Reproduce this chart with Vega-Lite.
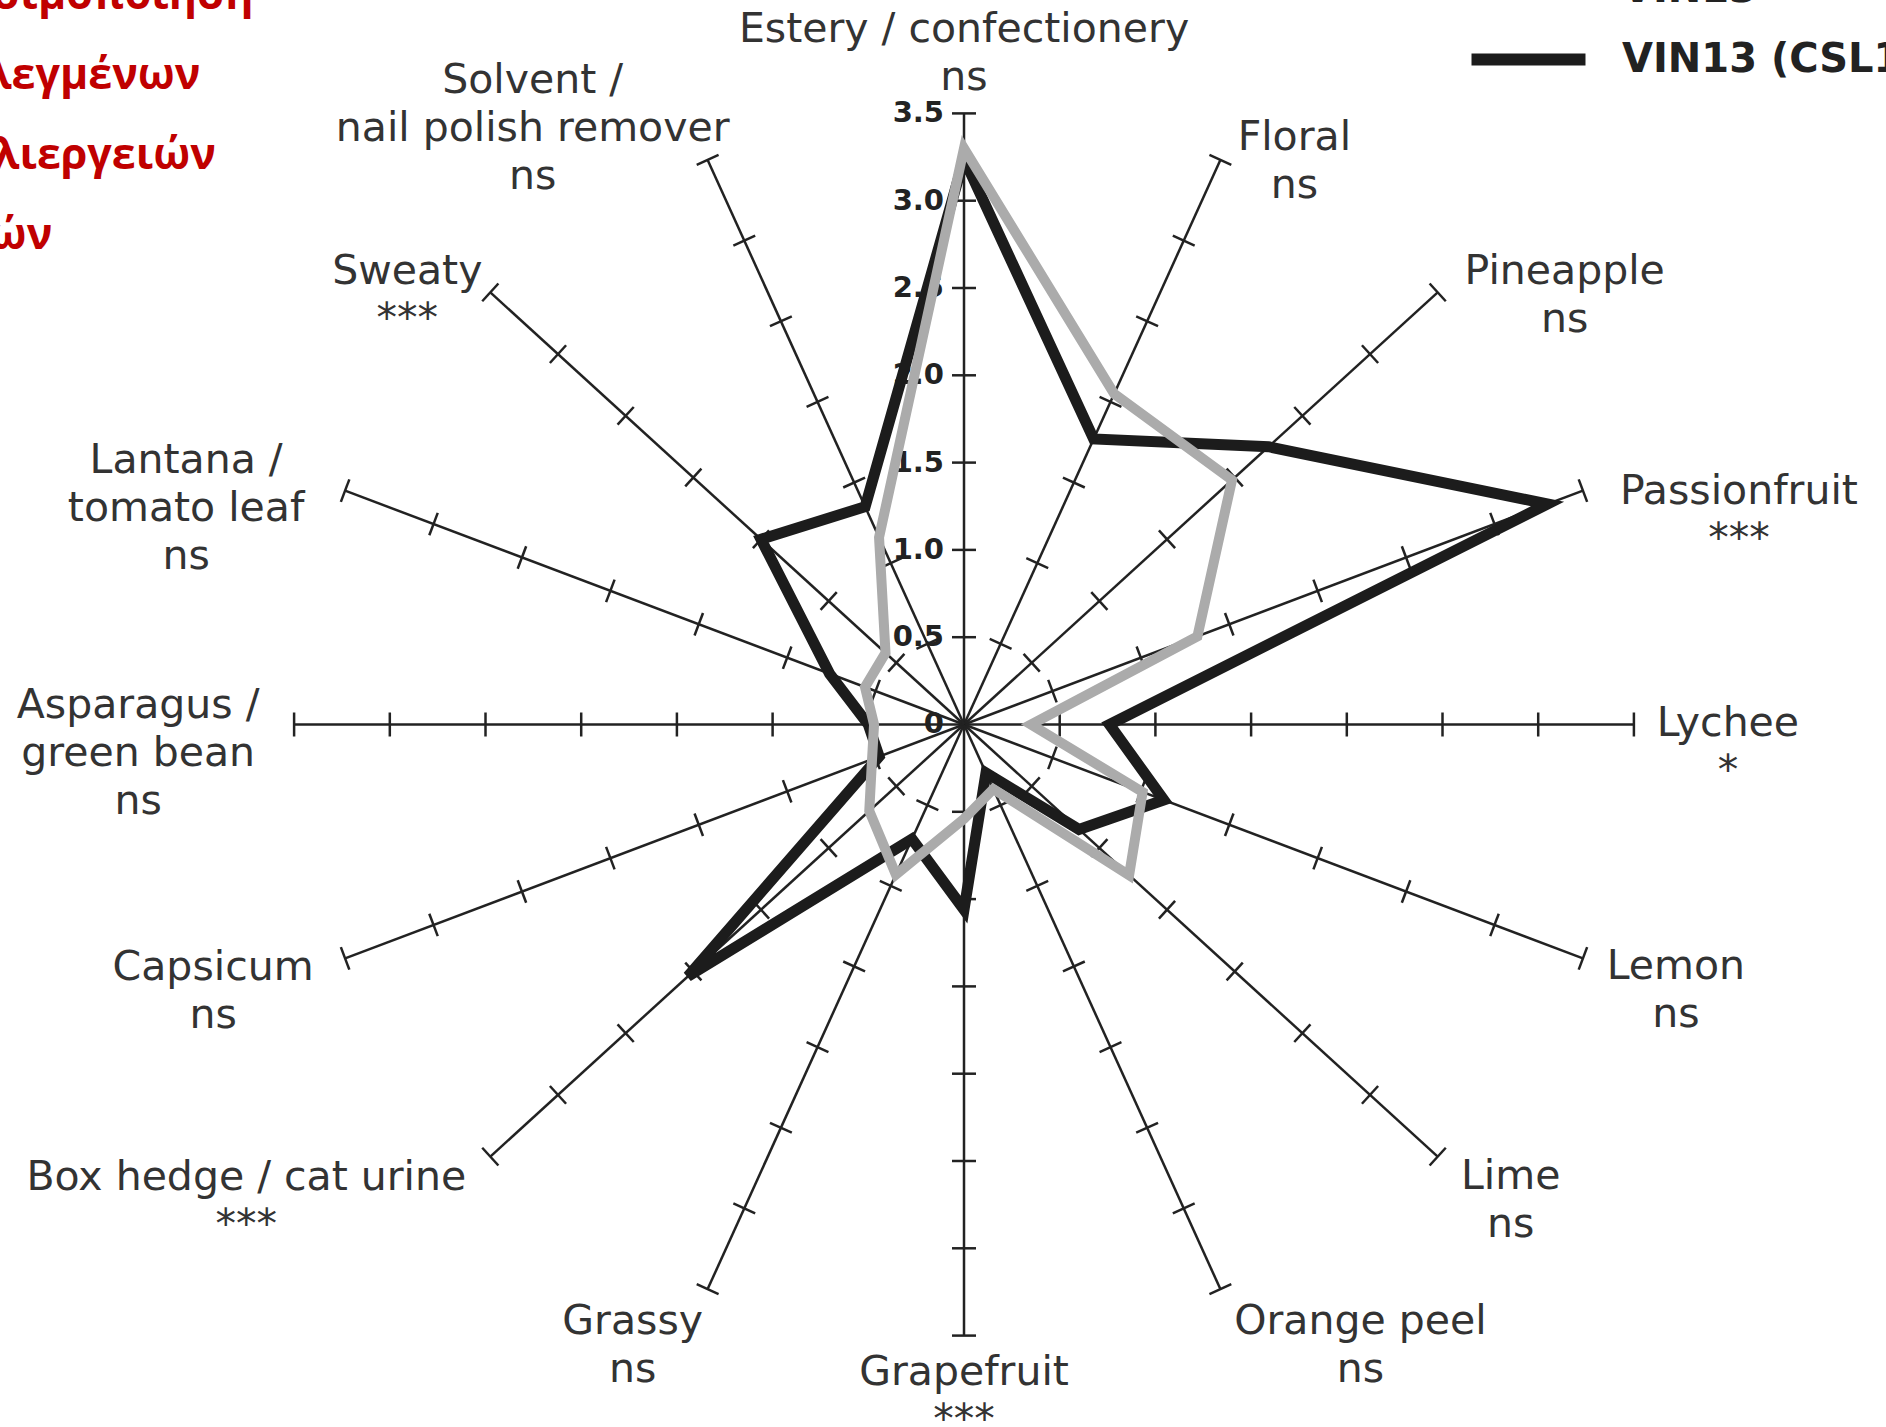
{
  "$schema": "https://vega.github.io/schema/vega-lite/v6.json",
  "width": 1886,
  "height": 1427,
  "autosize": {"type": "none"},
  "padding": 0,
  "background": "white",
  "config": {"view": {"stroke": null}},
  "datasets": {
    "attrs": [
      {"i": 0, "attribute": "Estery / confectionery", "label": ["Estery / confectionery", "ns"]},
      {"i": 1, "attribute": "Floral", "label": ["Floral", "ns"]},
      {"i": 2, "attribute": "Pineapple", "label": ["Pineapple", "ns"]},
      {"i": 3, "attribute": "Passionfruit", "label": ["Passionfruit", "***"]},
      {"i": 4, "attribute": "Lychee", "label": ["Lychee", "*"]},
      {"i": 5, "attribute": "Lemon", "label": ["Lemon", "ns"]},
      {"i": 6, "attribute": "Lime", "label": ["Lime", "ns"]},
      {"i": 7, "attribute": "Orange peel", "label": ["Orange peel", "ns"]},
      {"i": 8, "attribute": "Grapefruit", "label": ["Grapefruit", "***"]},
      {"i": 9, "attribute": "Grassy", "label": ["Grassy", "ns"]},
      {"i": 10, "attribute": "Box hedge / cat urine", "label": ["Box hedge / cat urine", "***"]},
      {"i": 11, "attribute": "Capsicum", "label": ["Capsicum", "ns"]},
      {"i": 12, "attribute": "Asparagus / green bean", "label": ["Asparagus /", "green bean", "ns"]},
      {"i": 13, "attribute": "Lantana / tomato leaf", "label": ["Lantana /", "tomato leaf", "ns"]},
      {"i": 14, "attribute": "Sweaty", "label": ["Sweaty", "***"]},
      {"i": 15, "attribute": "Solvent / nail polish remover", "label": ["Solvent /", "nail polish remover", "ns"]}
    ],
    "levels": [
      {"t": 0, "lab": "0", "spokes": []},
      {"t": 0.5, "lab": "0.5", "spokes": [0,1,2,3,4,5,6,7,8,9,10,11,12,13,14,15]},
      {"t": 1, "lab": "1.0", "spokes": [0,1,2,3,4,5,6,7,8,9,10,11,12,13,14,15]},
      {"t": 1.5, "lab": "1.5", "spokes": [0,1,2,3,4,5,6,7,8,9,10,11,12,13,14,15]},
      {"t": 2, "lab": "2.0", "spokes": [0,1,2,3,4,5,6,7,8,9,10,11,12,13,14,15]},
      {"t": 2.5, "lab": "2.5", "spokes": [0,1,2,3,4,5,6,7,8,9,10,11,12,13,14,15]},
      {"t": 3, "lab": "3.0", "spokes": [0,1,2,3,4,5,6,7,8,9,10,11,12,13,14,15]},
      {"t": 3.5, "lab": "3.5", "spokes": [0,1,2,3,4,5,6,7,8,9,10,11,12,13,14,15]}
    ],
    "scores": [
      {"attribute": "Estery / confectionery", "i": 0, "strain": "VIN13", "score": 3.3},
      {"attribute": "Floral", "i": 1, "strain": "VIN13", "score": 2.05},
      {"attribute": "Pineapple", "i": 2, "strain": "VIN13", "score": 1.98},
      {"attribute": "Passionfruit", "i": 3, "strain": "VIN13", "score": 1.32},
      {"attribute": "Lychee", "i": 4, "strain": "VIN13", "score": 0.35},
      {"attribute": "Lemon", "i": 5, "strain": "VIN13", "score": 1.01},
      {"attribute": "Lime", "i": 6, "strain": "VIN13", "score": 1.22},
      {"attribute": "Orange peel", "i": 7, "strain": "VIN13", "score": 0.4},
      {"attribute": "Grapefruit", "i": 8, "strain": "VIN13", "score": 0.54},
      {"attribute": "Grassy", "i": 9, "strain": "VIN13", "score": 0.93},
      {"attribute": "Box hedge / cat urine", "i": 10, "strain": "VIN13", "score": 0.7},
      {"attribute": "Capsicum", "i": 11, "strain": "VIN13", "score": 0.52},
      {"attribute": "Asparagus / green bean", "i": 12, "strain": "VIN13", "score": 0.47},
      {"attribute": "Lantana / tomato leaf", "i": 13, "strain": "VIN13", "score": 0.56},
      {"attribute": "Sweaty", "i": 14, "strain": "VIN13", "score": 0.58},
      {"attribute": "Solvent / nail polish remover", "i": 15, "strain": "VIN13", "score": 1.16},
      {"attribute": "Estery / confectionery", "i": 0, "strain": "VIN13 (CSL1)", "score": 3.24},
      {"attribute": "Floral", "i": 1, "strain": "VIN13 (CSL1)", "score": 1.77},
      {"attribute": "Pineapple", "i": 2, "strain": "VIN13 (CSL1)", "score": 2.25},
      {"attribute": "Passionfruit", "i": 3, "strain": "VIN13 (CSL1)", "score": 3.3},
      {"attribute": "Lychee", "i": 4, "strain": "VIN13 (CSL1)", "score": 0.76},
      {"attribute": "Lemon", "i": 5, "strain": "VIN13 (CSL1)", "score": 1.13},
      {"attribute": "Lime", "i": 6, "strain": "VIN13 (CSL1)", "score": 0.85},
      {"attribute": "Orange peel", "i": 7, "strain": "VIN13 (CSL1)", "score": 0.3},
      {"attribute": "Grapefruit", "i": 8, "strain": "VIN13 (CSL1)", "score": 1.06},
      {"attribute": "Grassy", "i": 9, "strain": "VIN13 (CSL1)", "score": 0.71},
      {"attribute": "Box hedge / cat urine", "i": 10, "strain": "VIN13 (CSL1)", "score": 2.04},
      {"attribute": "Capsicum", "i": 11, "strain": "VIN13 (CSL1)", "score": 0.48},
      {"attribute": "Asparagus / green bean", "i": 12, "strain": "VIN13 (CSL1)", "score": 0.5},
      {"attribute": "Lantana / tomato leaf", "i": 13, "strain": "VIN13 (CSL1)", "score": 0.76},
      {"attribute": "Sweaty", "i": 14, "strain": "VIN13 (CSL1)", "score": 1.5},
      {"attribute": "Solvent / nail polish remover", "i": 15, "strain": "VIN13 (CSL1)", "score": 1.35}
    ],
    "slide": [
      {"lines": ["χρησιμοποίηση", "επιλεγμένων", "καλλιεργειών", "ζυμών"]}
    ]
  },
  "encoding": {
    "x": {"field": "px", "type": "quantitative", "scale": {"domain": [-5.0366, 4.8171], "nice": false, "zero": false}, "axis": null},
    "y": {"field": "py", "type": "quantitative", "scale": {"domain": [-4.0235, 4.1495], "nice": false, "zero": false}, "axis": null}
  },
  "layer": [
    {
      "data": {"name": "levels"},
      "transform": [{"calculate": "0", "as": "px"}, {"calculate": "datum.t", "as": "py"}],
      "mark": {"type": "text", "align": "right", "baseline": "middle", "dx": -20, "font": "DejaVu Sans", "fontWeight": "bold", "fontSize": 29, "color": "#222222"},
      "encoding": {"text": {"field": "lab", "type": "nominal"}}
    },
    {
      "data": {"name": "attrs"},
      "transform": [
        {"calculate": "datum.i * PI / 8", "as": "theta"},
        {"calculate": "3.5 * sin(datum.theta)", "as": "px"},
        {"calculate": "3.5 * cos(datum.theta)", "as": "py"}
      ],
      "layer": [
        {
          "mark": {"type": "rule", "strokeWidth": 2.5, "color": "#222222"},
          "encoding": {
            "x": {"datum": 0, "type": "quantitative", "scale": {"domain": [-5.0366, 4.8171], "nice": false, "zero": false}, "axis": null},
            "y": {"datum": 0, "type": "quantitative", "scale": {"domain": [-4.0235, 4.1495], "nice": false, "zero": false}, "axis": null},
            "x2": {"field": "px"},
            "y2": {"field": "py"}
          }
        },
        {"transform": [{"filter": "datum.i == 0"}], "mark": {"type": "text", "align": "center", "baseline": "alphabetic", "dx": 0, "dy": -71, "font": "DejaVu Sans", "fontSize": 41, "lineHeight": 48, "color": "#333333"}, "encoding": {"text": {"field": "label", "type": "nominal"}}},
        {"transform": [{"filter": "datum.i == 1"}], "mark": {"type": "text", "align": "center", "baseline": "alphabetic", "dx": 74, "dy": -10, "font": "DejaVu Sans", "fontSize": 41, "lineHeight": 48, "color": "#333333"}, "encoding": {"text": {"field": "label", "type": "nominal"}}},
        {"transform": [{"filter": "datum.i == 2"}], "mark": {"type": "text", "align": "center", "baseline": "alphabetic", "dx": 127, "dy": -8, "font": "DejaVu Sans", "fontSize": 41, "lineHeight": 48, "color": "#333333"}, "encoding": {"text": {"field": "label", "type": "nominal"}}},
        {"transform": [{"filter": "datum.i == 3"}], "mark": {"type": "text", "align": "center", "baseline": "alphabetic", "dx": 156, "dy": 13, "font": "DejaVu Sans", "fontSize": 41, "lineHeight": 48, "color": "#333333"}, "encoding": {"text": {"field": "label", "type": "nominal"}}},
        {"transform": [{"filter": "datum.i == 4"}], "mark": {"type": "text", "align": "center", "baseline": "alphabetic", "dx": 94, "dy": 12, "font": "DejaVu Sans", "fontSize": 41, "lineHeight": 48, "color": "#333333"}, "encoding": {"text": {"field": "label", "type": "nominal"}}},
        {"transform": [{"filter": "datum.i == 5"}], "mark": {"type": "text", "align": "center", "baseline": "alphabetic", "dx": 93, "dy": 21, "font": "DejaVu Sans", "fontSize": 41, "lineHeight": 48, "color": "#333333"}, "encoding": {"text": {"field": "label", "type": "nominal"}}},
        {"transform": [{"filter": "datum.i == 6"}], "mark": {"type": "text", "align": "center", "baseline": "alphabetic", "dx": 73, "dy": 32, "font": "DejaVu Sans", "fontSize": 41, "lineHeight": 48, "color": "#333333"}, "encoding": {"text": {"field": "label", "type": "nominal"}}},
        {"transform": [{"filter": "datum.i == 7"}], "mark": {"type": "text", "align": "center", "baseline": "alphabetic", "dx": 140, "dy": 45, "font": "DejaVu Sans", "fontSize": 41, "lineHeight": 48, "color": "#333333"}, "encoding": {"text": {"field": "label", "type": "nominal"}}},
        {"transform": [{"filter": "datum.i == 8"}], "mark": {"type": "text", "align": "center", "baseline": "alphabetic", "dx": 0, "dy": 49, "font": "DejaVu Sans", "fontSize": 41, "lineHeight": 48, "color": "#333333"}, "encoding": {"text": {"field": "label", "type": "nominal"}}},
        {"transform": [{"filter": "datum.i == 9"}], "mark": {"type": "text", "align": "center", "baseline": "alphabetic", "dx": -75, "dy": 45, "font": "DejaVu Sans", "fontSize": 41, "lineHeight": 48, "color": "#333333"}, "encoding": {"text": {"field": "label", "type": "nominal"}}},
        {"transform": [{"filter": "datum.i == 10"}], "mark": {"type": "text", "align": "center", "baseline": "alphabetic", "dx": -244, "dy": 33, "font": "DejaVu Sans", "fontSize": 41, "lineHeight": 48, "color": "#333333"}, "encoding": {"text": {"field": "label", "type": "nominal"}}},
        {"transform": [{"filter": "datum.i == 11"}], "mark": {"type": "text", "align": "center", "baseline": "alphabetic", "dx": -132, "dy": 22, "font": "DejaVu Sans", "fontSize": 41, "lineHeight": 48, "color": "#333333"}, "encoding": {"text": {"field": "label", "type": "nominal"}}},
        {"transform": [{"filter": "datum.i == 12"}], "mark": {"type": "text", "align": "center", "baseline": "alphabetic", "dx": -156, "dy": -6, "font": "DejaVu Sans", "fontSize": 41, "lineHeight": 48, "color": "#333333"}, "encoding": {"text": {"field": "label", "type": "nominal"}}},
        {"transform": [{"filter": "datum.i == 13"}], "mark": {"type": "text", "align": "center", "baseline": "alphabetic", "dx": -159, "dy": -18, "font": "DejaVu Sans", "fontSize": 41, "lineHeight": 48, "color": "#333333"}, "encoding": {"text": {"field": "label", "type": "nominal"}}},
        {"transform": [{"filter": "datum.i == 14"}], "mark": {"type": "text", "align": "center", "baseline": "alphabetic", "dx": -83, "dy": -8, "font": "DejaVu Sans", "fontSize": 41, "lineHeight": 48, "color": "#333333"}, "encoding": {"text": {"field": "label", "type": "nominal"}}},
        {"transform": [{"filter": "datum.i == 15"}], "mark": {"type": "text", "align": "center", "baseline": "alphabetic", "dx": -175, "dy": -67, "font": "DejaVu Sans", "fontSize": 41, "lineHeight": 48, "color": "#333333"}, "encoding": {"text": {"field": "label", "type": "nominal"}}}
      ]
    },
    {
      "data": {"name": "levels"},
      "transform": [
        {"filter": "datum.t > 0"},
        {"flatten": ["spokes"], "as": ["i"]},
        {"calculate": "datum.i * PI / 8", "as": "theta"},
        {"calculate": "sin(datum.theta)", "as": "ux"},
        {"calculate": "cos(datum.theta)", "as": "uy"},
        {"calculate": "sqrt(pow(174.6 * datum.uy, 2) + pow(191.4 * datum.ux, 2))", "as": "nn"},
        {"calculate": "12 * 174.6 * datum.uy / datum.nn / 191.4", "as": "ox"},
        {"calculate": "-12 * 191.4 * datum.ux / datum.nn / 174.6", "as": "oy"},
        {"calculate": "datum.t * datum.ux - datum.ox", "as": "px"},
        {"calculate": "datum.t * datum.uy - datum.oy", "as": "py"},
        {"calculate": "datum.t * datum.ux + datum.ox", "as": "px2"},
        {"calculate": "datum.t * datum.uy + datum.oy", "as": "py2"}
      ],
      "mark": {"type": "rule", "strokeWidth": 2.5, "color": "#222222"},
      "encoding": {"x2": {"field": "px2"}, "y2": {"field": "py2"}}
    },
    {
      "data": {"name": "scores"},
      "transform": [
        {"filter": "datum.strain == 'VIN13 (CSL1)'"},
        {"calculate": "datum.i * PI / 8", "as": "theta"},
        {"calculate": "datum.score * sin(datum.theta)", "as": "px"},
        {"calculate": "datum.score * cos(datum.theta)", "as": "py"}
      ],
      "mark": {"type": "line", "interpolate": "linear-closed", "strokeWidth": 11, "strokeJoin": "miter"},
      "encoding": {
        "order": {"field": "i", "type": "quantitative"},
        "color": {
          "field": "strain", "type": "nominal",
          "scale": {"domain": ["VIN13", "VIN13 (CSL1)"], "range": ["#ababab", "#1c1c1c"]},
          "legend": {"orient": "none", "legendX": 1508, "legendY": -31, "title": null, "symbolType": "M-4,0H4", "symbolSize": 812, "symbolStrokeWidth": 12, "symbolOpacity": 1, "labelFont": "DejaVu Sans", "labelFontWeight": "bold", "labelFontSize": 40, "labelColor": "#222222", "labelOffset": 73, "labelLimit": 0, "rowPadding": 21, "padding": 0}
        }
      }
    },
    {
      "data": {"name": "scores"},
      "transform": [
        {"filter": "datum.strain == 'VIN13'"},
        {"calculate": "datum.i * PI / 8", "as": "theta"},
        {"calculate": "datum.score * sin(datum.theta)", "as": "px"},
        {"calculate": "datum.score * cos(datum.theta)", "as": "py"}
      ],
      "mark": {"type": "line", "interpolate": "linear-closed", "strokeWidth": 10, "strokeJoin": "miter"},
      "encoding": {
        "order": {"field": "i", "type": "quantitative"},
        "color": {"field": "strain", "type": "nominal", "scale": {"domain": ["VIN13", "VIN13 (CSL1)"], "range": ["#ababab", "#1c1c1c"]}}
      }
    },
    {
      "data": {"name": "slide"},
      "transform": [{"calculate": "-5.4963", "as": "px"}, {"calculate": "4.098", "as": "py"}],
      "mark": {"type": "text", "align": "left", "baseline": "alphabetic", "font": "Open Sans", "fontWeight": "bold", "fontSize": 43, "lineHeight": 80, "fill": "#c00000", "clip": false},
      "encoding": {
        "text": {"field": "lines", "type": "nominal"}
      }
    }
  ]
}
